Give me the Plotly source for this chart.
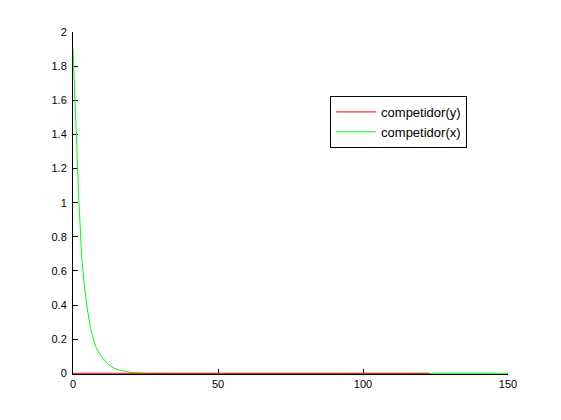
import plotly.graph_objects as go

# Data
green_x = [0, 0.5, 1, 1.5, 2, 3, 4, 5, 6, 7, 8, 9, 10, 12, 14, 16, 18, 20, 25, 30, 40, 60, 80, 100, 120, 150]
green_y = [1.9, 1.65, 1.42, 1.2, 1.02, 0.68, 0.5, 0.37, 0.27, 0.2, 0.15, 0.12, 0.095, 0.055, 0.032, 0.018, 0.01, 0.005, 0.001, 0, 0, 0, 0, 0, 0, 0]
red_x = [0, 123]
red_y = [0, 0]
x_ticks = [0, 50, 100, 150]
y_ticks = [0, 0.2, 0.4, 0.6, 0.8, 1, 1.2, 1.4, 1.6, 1.8, 2]
y_tick_text = ["0", "0.2", "0.4", "0.6", "0.8", "1", "1.2", "1.4", "1.6", "1.8", "2"]

fig = go.Figure()
fig.add_trace(go.Scatter(x=green_x, y=green_y, mode="lines", name="competidor(x)",
                         line=dict(color="#00ff00", width=1), legendrank=2))
fig.add_trace(go.Scatter(x=red_x, y=red_y, mode="lines", name="competidor(y)",
                         line=dict(color="#ff0000", width=1), legendrank=1))

axis_common = dict(showline=True, linecolor="black", linewidth=1, ticks="inside",
                   ticklen=5, tickcolor="black", showgrid=False, zeroline=False,
                   mirror=False, layer="below traces",
                   tickfont=dict(family="Liberation Sans, Arial", size=11, color="black"))

fig.update_layout(
    width=561, height=420,
    margin=dict(l=73, r=53, t=32, b=46),
    paper_bgcolor="white", plot_bgcolor="white",
    xaxis=dict(range=[0, 150], tickvals=x_ticks, **axis_common),
    yaxis=dict(range=[-0.004, 2], tickvals=y_ticks, ticktext=y_tick_text, ticklabelstandoff=3, **axis_common),
    legend=dict(x=0.591, y=0.813, xanchor="left", yanchor="top",
                bordercolor="black", borderwidth=1, bgcolor="white",
                font=dict(family="Liberation Sans, Arial", size=13, color="black"),
                tracegroupgap=0, itemwidth=40),
    showlegend=True,
)

fig.write_html("out.html", config={"displayModeBar": False},
               post_script="document.body.style.margin='0';document.body.style.padding='0';")
